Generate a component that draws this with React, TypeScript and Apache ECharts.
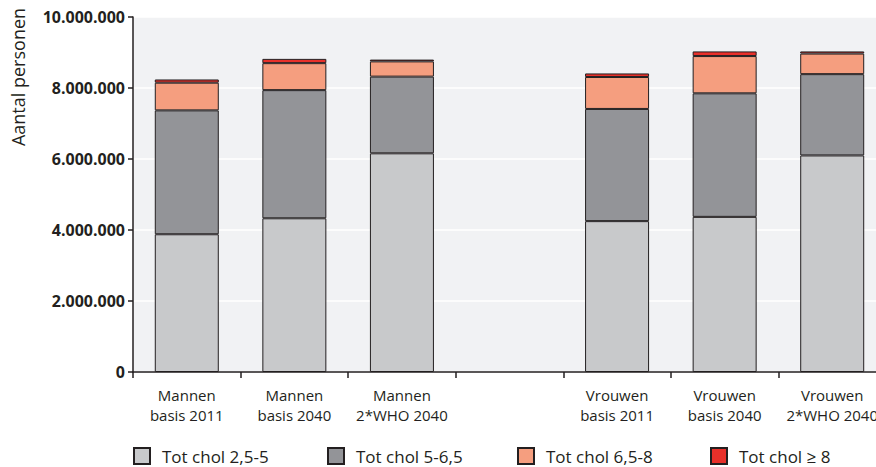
import React, { useEffect, useRef } from "react";
import * as echarts from "echarts";

const categories = [
  "Mannen\nbasis 2011",
  "Mannen\nbasis 2040",
  "Mannen\n2*WHO 2040",
  "",
  "Vrouwen\nbasis 2011",
  "Vrouwen\nbasis 2040",
  "Vrouwen\n2*WHO 2040",
];

const seriesNames = ["Tot chol 2,5-5", "Tot chol 5-6,5", "Tot chol 6,5-8", "Tot chol ≥ 8"];

const chol25to5 = [3880000, 4330000, 6160000, null, 4250000, 4370000, 6100000];
const chol5to65 = [3490000, 3610000, 2160000, null, 3160000, 3480000, 2290000];
const chol65to8 = [780000, 760000, 430000, null, 900000, 1050000, 580000];
const chol8plus = [90000, 120000, 50000, null, 100000, 130000, 60000];

const yTicks = { min: 0, max: 10000000, interval: 2000000 };

const colors = ["#c8c9cb", "#939498", "#f59e7f", "#e8302a"];
const ink = "#231f20";
const font = "'Open Sans', 'Noto Sans', sans-serif";

const fmt = (v: number) => String(Math.round(v)).replace(/\B(?=(\d{3})+(?!\d))/g, ".");

export default function App() {
  const ref = useRef<HTMLDivElement>(null);
  useEffect(() => {
    document.body.style.margin = "0";
    if (!ref.current) return;
    const chart = echarts.init(ref.current, null, { renderer: "svg" });
    const data = [chol25to5, chol5to65, chol65to8, chol8plus];
    const legendLefts = [133, 327, 517, 710];
    chart.setOption({
      animation: false,
      textStyle: { fontFamily: font },
      grid: {
        left: 133,
        right: -10,
        top: 17,
        bottom: 95,
        outerBoundsMode: "none",
        containLabel: false,
        show: true,
        backgroundColor: "#f1f2f4",
        borderWidth: 0,
      },
      legend: seriesNames.map((n, i) => ({
        data: [n],
        left: legendLefts[i],
        top: 447,
        icon: "rect",
        itemWidth: 16,
        itemHeight: 16,
        itemGap: 10,
        textStyle: {
          fontSize: 17,
          lineHeight: 17,
          color: ink,
          fontFamily: font,
          padding: [0, 0, 0, 7],
        },
        padding: 0,
      })),
      graphic: [
        {
          type: "text",
          x: 18,
          y: 77,
          rotation: Math.PI / 2,
          style: {
            text: "Aantal personen",
            fontSize: 18,
            fill: ink,
            fontFamily: font,
            align: "center",
            verticalAlign: "middle",
          },
        },
      ],
      xAxis: {
        type: "category",
        data: categories,
        axisLine: { show: true, lineStyle: { color: ink, width: 1.5 } },
        axisTick: { show: true, length: 6, lineStyle: { color: ink, width: 1.5 } },
        axisLabel: {
          color: ink,
          fontSize: 15,
          lineHeight: 20,
          margin: 13,
          interval: 0,
          fontFamily: font,
        },
        splitLine: { show: false },
      },
      yAxis: {
        type: "value",
        min: yTicks.min,
        max: yTicks.max,
        interval: yTicks.interval,
        axisLine: { show: true, lineStyle: { color: ink, width: 1.5 } },
        axisTick: { show: true, length: 5, lineStyle: { color: ink, width: 1.5 } },
        axisLabel: {
          color: ink,
          fontSize: 16,
          fontWeight: "bold",
          margin: 8,
          fontFamily: font,
          formatter: (v: number) => fmt(v),
        },
        splitLine: { show: true, lineStyle: { color: "#ffffff", width: 1.5 } },
      },
      series: seriesNames.map((n, i) => ({
        name: n,
        type: "bar",
        stack: "total",
        barWidth: 64,
        data: data[i],
        itemStyle: { color: colors[i], borderColor: ink, borderWidth: 1 },
      })),
    });
    return () => chart.dispose();
  }, []);
  return <div ref={ref} style={{ width: 876, height: 467 }} />;
}
